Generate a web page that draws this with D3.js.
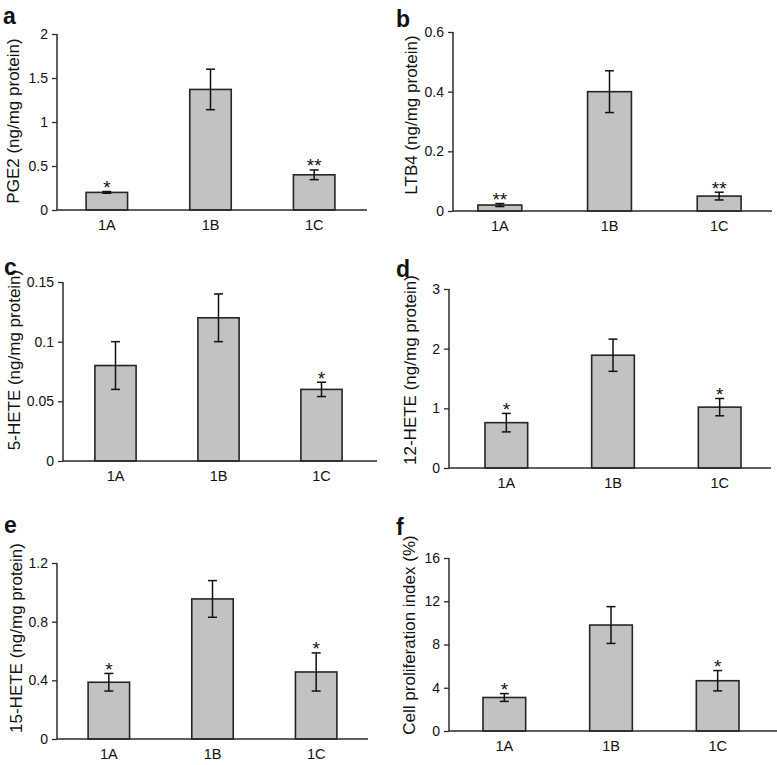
<!DOCTYPE html>
<html>
<head>
<meta charset="utf-8">
<script src="https://cdn.jsdelivr.net/npm/d3@7"></script>
<style>
  html, body { margin: 0; padding: 0; background: #fff; }
  svg { display: block; }
  text { font-family: "Liberation Sans", Arial, sans-serif; fill: #111; }
</style>
</head>
<body>
<svg id="chart" width="777" height="765"></svg>
<script>
// ---------- DATA ----------
const categories = ["1A", "1B", "1C"];

const pge2Values = [0.20, 1.37, 0.40];
const pge2Errors = [0.01, 0.23, 0.055];
const pge2Marks  = ["*", "", "**"];
const pge2Ticks  = [0, 0.5, 1, 1.5, 2];

const ltb4Values = [0.02, 0.40, 0.05];
const ltb4Errors = [0.005, 0.07, 0.013];
const ltb4Marks  = ["**", "", "**"];
const ltb4Ticks  = [0, 0.2, 0.4, 0.6];

const hete5Values = [0.08, 0.12, 0.06];
const hete5Errors = [0.02, 0.02, 0.006];
const hete5Marks  = ["", "", "*"];
const hete5Ticks  = [0, 0.05, 0.1, 0.15];

const hete12Values = [0.76, 1.89, 1.02];
const hete12Errors = [0.155, 0.27, 0.145];
const hete12Marks  = ["*", "", "*"];
const hete12Ticks  = [0, 1, 2, 3];

const hete15Values = [0.387, 0.955, 0.457];
const hete15Errors = [0.06, 0.125, 0.13];
const hete15Marks  = ["*", "", "*"];
const hete15Ticks  = [0, 0.4, 0.8, 1.2];

const prolifValues = [3.1, 9.8, 4.65];
const prolifErrors = [0.36, 1.7, 0.94];
const prolifMarks  = ["*", "", "*"];
const prolifTicks  = [0, 4, 8, 12, 16];

const panelLetters = ["a", "b", "c", "d", "e", "f"];
const yLabels = [
  "PGE2 (ng/mg protein)",
  "LTB4 (ng/mg protein)",
  "5-HETE (ng/mg protein)",
  "12-HETE (ng/mg protein)",
  "15-HETE (ng/mg protein)",
  "Cell proliferation index (%)"
];

// ---------- LAYOUT (positions only) ----------
const layout = [
  { x0: 57,  x1: 367, yTop: 34,  y0: 210, bars: [55, 366],  letter: [3, 24],   label: [13, 121] },
  { x0: 453, x1: 772, yTop: 32,  y0: 211, bars: [445, 774], letter: [396, 27], label: [411, 115] },
  { x0: 63,  x1: 377, yTop: 282, y0: 461, bars: [64, 373],  letter: [4, 275],  label: [14, 360] },
  { x0: 449, x1: 771, yTop: 289, y0: 468, bars: [453, 773], letter: [396, 277], label: [410, 370] },
  { x0: 57,  x1: 368, yTop: 563, y0: 739, bars: [57, 368],  letter: [4, 533],  label: [16, 638] },
  { x0: 449, x1: 777, yTop: 558, y0: 731, bars: [451, 771], letter: [396, 535], label: [409, 635] }
];

const panels = [
  { values: pge2Values,  errors: pge2Errors,  marks: pge2Marks,  ticks: pge2Ticks },
  { values: ltb4Values,  errors: ltb4Errors,  marks: ltb4Marks,  ticks: ltb4Ticks },
  { values: hete5Values, errors: hete5Errors, marks: hete5Marks, ticks: hete5Ticks },
  { values: hete12Values, errors: hete12Errors, marks: hete12Marks, ticks: hete12Ticks },
  { values: hete15Values, errors: hete15Errors, marks: hete15Marks, ticks: hete15Ticks },
  { values: prolifValues, errors: prolifErrors, marks: prolifMarks, ticks: prolifTicks }
];

const svg = d3.select("#chart");
const axisColor = "#2a2a2a";

panels.forEach((p, i) => {
  const L = layout[i];
  const g = svg.append("g");

  const x = d3.scaleBand()
    .domain(categories)
    .range(L.bars)
    .paddingInner(0.6)
    .paddingOuter(0.3);

  const y = d3.scaleLinear()
    .domain([0, p.ticks[p.ticks.length - 1]])
    .range([L.y0, L.yTop]);

  // bars
  g.selectAll("rect.bar")
    .data(categories)
    .enter().append("rect")
    .attr("x", d => x(d))
    .attr("width", x.bandwidth())
    .attr("y", (d, j) => y(p.values[j]))
    .attr("height", (d, j) => L.y0 - y(p.values[j]))
    .attr("fill", "#c2c2c2")
    .attr("stroke", "#262626")
    .attr("stroke-width", 1.6);

  // error bars
  const cap = 4.5;
  categories.forEach((c, j) => {
    const cx = x(c) + x.bandwidth() / 2;
    const hi = y(p.values[j] + p.errors[j]);
    const lo = y(p.values[j] - p.errors[j]);
    const eg = g.append("g").attr("stroke", "#111").attr("stroke-width", 1.5);
    eg.append("line").attr("x1", cx).attr("x2", cx).attr("y1", hi).attr("y2", lo);
    eg.append("line").attr("x1", cx - cap).attr("x2", cx + cap).attr("y1", hi).attr("y2", hi);
    eg.append("line").attr("x1", cx - cap).attr("x2", cx + cap).attr("y1", lo).attr("y2", lo);
    if (p.marks[j]) {
      g.append("text")
        .attr("x", cx)
        .attr("y", hi + 2.5)
        .attr("text-anchor", "middle")
        .style("font-size", "19px")
        .text(p.marks[j]);
    }
  });

  // y axis
  const yAxis = d3.axisLeft(y)
    .tickValues(p.ticks)
    .tickSize(5)
    .tickPadding(4)
    .tickFormat(d3.format("~g"));
  const ya = g.append("g")
    .attr("transform", `translate(${L.x0},0)`)
    .call(yAxis);
  ya.select(".domain").attr("stroke", axisColor).attr("stroke-width", 1.5).attr("d", `M0,${L.yTop}V${L.y0}`);
  ya.selectAll(".tick line").attr("stroke", axisColor).attr("stroke-width", 1.3);
  ya.selectAll(".tick text")
    .style("font-size", "14px")
    .style("font-family", "'Liberation Sans', Arial, sans-serif")
    .attr("fill", "#111");

  // x axis
  const xAxis = d3.axisBottom(x).tickSize(0).tickPadding(10);
  const xa = g.append("g")
    .attr("transform", `translate(0,${L.y0})`)
    .call(xAxis);
  xa.select(".domain").attr("stroke", axisColor).attr("stroke-width", 1.5).attr("d", `M${L.x0},0H${L.x1}`);
  xa.selectAll(".tick text")
    .style("font-size", "14.5px")
    .style("font-family", "'Liberation Sans', Arial, sans-serif")
    .attr("fill", "#111");

  // y label
  g.append("text")
    .attr("transform", `translate(${L.label[0]},${L.label[1]}) rotate(-90)`)
    .attr("text-anchor", "middle")
    .attr("dominant-baseline", "central")
    .style("font-size", "17px")
    .text(yLabels[i]);

  // panel letter
  g.append("text")
    .attr("x", L.letter[0])
    .attr("y", L.letter[1])
    .style("font-size", "23px")
    .style("font-weight", "bold")
    .attr("fill", "#000")
    .text(panelLetters[i]);
});
</script>
</body>
</html>
